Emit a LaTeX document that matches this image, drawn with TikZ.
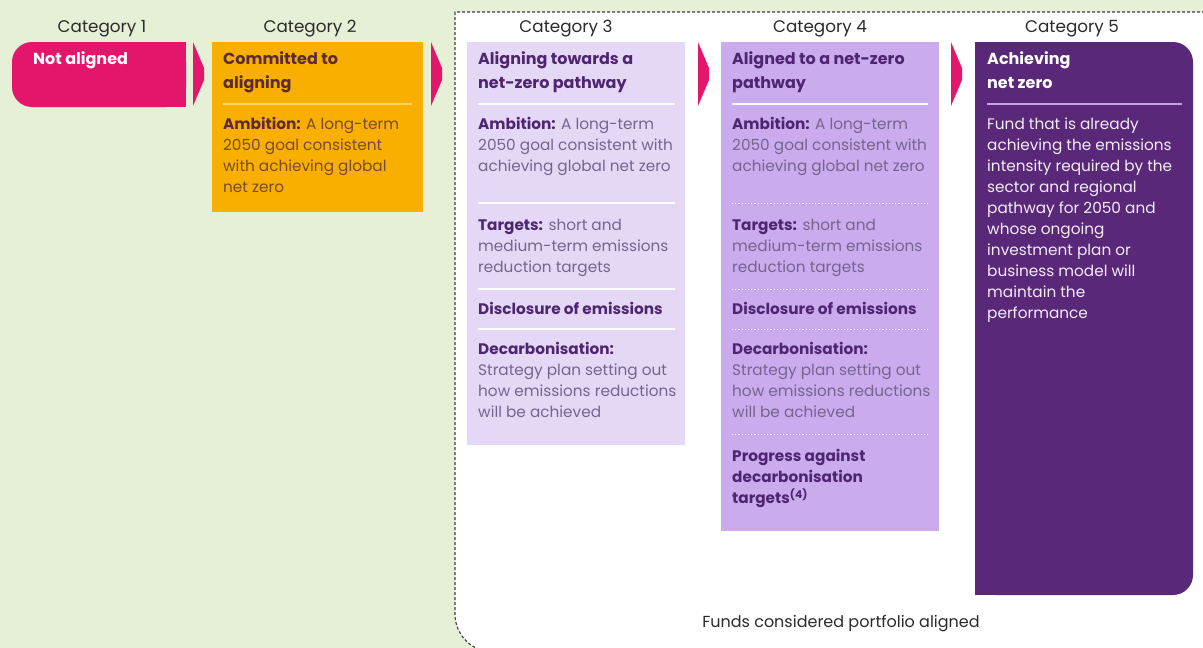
\documentclass[tikz,border=0pt]{standalone}
\usepackage{fontspec}
\setmainfont{Poppins}
\usetikzlibrary{positioning}
\definecolor{Meadow}{HTML}{E5F0D6}
\definecolor{Rose}{HTML}{E4166C}
\definecolor{Amber}{HTML}{F8AF00}
\definecolor{Lilac}{HTML}{E5D8F6}
\definecolor{Lavender}{HTML}{C9ABEE}
\definecolor{Plum}{HTML}{5A2878}
\definecolor{Ink}{HTML}{2B2B2B}
\definecolor{Maroon}{HTML}{5C2A35}
\definecolor{Umber}{HTML}{7A4A30}
\definecolor{Grape}{HTML}{4E2570}
\definecolor{Mauve}{HTML}{76648E}
\definecolor{Butter}{HTML}{FBD65C}
\definecolor{Thistle}{HTML}{C6A2E6}
\definecolor{Haze}{HTML}{F3ECF8}
\definecolor{Slate}{HTML}{3E3F44}
\tikzset{
    catlabel/.style={anchor=base, inner sep=0, text=Ink, font=\fontsize{16.8}{19}\selectfont},
    boxtext/.style={anchor=north west, align=left, inner sep=0, font=\fontsize{15.3}{21}\selectfont},
    boldtext/.style={boxtext, font=\bfseries\fontsize{15.3}{21}\selectfont},
    boxtitle/.style={boxtext, font=\bfseries\fontsize{16}{24}\selectfont},
    chevron/.style={fill=Rose},
    rule/.style={line width=1.2pt},
    dotrule/.style={rule, dotted, line width=1pt},
    alignframe/.style={fill=white, draw=Slate, line width=1.1pt, dash pattern=on 3pt off 2pt},
}

\begin{document}
\begin{tikzpicture}[x=1pt, y=-1pt]
    \useasboundingbox (0,0) rectangle (1203,648);
    \fill[Meadow] (0,0) rectangle (1203,648);

    % Aligned funds frame (runs off the right and bottom edge)
    \begin{scope}
        \clip (0,0) rectangle (1203,648);
        \path[alignframe] (1220,12) -- (455,12) -- (455,614)
            .. controls (455,635) and (472,652) .. (493,652) -- (1220,652);
    \end{scope}

    % Category headings
    \node[catlabel] (cat1) at (102,32) {Category 1};
    \node[catlabel] (cat2) at (310,32) {Category 2};
    \node[catlabel] (cat3) at (566,32) {Category 3};
    \node[catlabel] (cat4) at (820,32) {Category 4};
    \node[catlabel] (cat5) at (1072,32) {Category 5};

    % Boxes
    \fill[Rose, rounded corners=20pt] (12,42) rectangle (186,107);
    \fill[Rose] (100,42) rectangle (186,107);
    \fill[Amber] (212,42) rectangle (423,212);
    \fill[Lilac] (467,42) rectangle (685,445);
    \fill[Lavender] (721,42) rectangle (939,531);
    \fill[Plum, rounded corners=20pt] (975,42) rectangle (1193,595);
    \fill[Plum] (975,42) rectangle (1100,595);

    % Chevrons between the categories
    \foreach \x in {193,431,698,951}
        \fill[chevron] (\x,42) -- (\x+11,68) -- (\x+11,80) -- (\x,106) -- cycle;

    % Category 1
    \node[boxtitle, text=white] (c1title) at (33,51) {Not aligned};

    % Category 2
    \node[boxtitle, text=Maroon] (c2title) at (223,51) {Committed to\\aligning};
    \draw[rule, Butter] (223,104) -- (412,104);
    \node[boxtext, text=Umber] (c2amb) at (223,117.5)
        {{\bfseries\color{Maroon}Ambition:} A long-term\\2050 goal consistent\\with achieving global\\net zero};

    % Category 3
    \node[boxtitle, text=Grape] (c3title) at (478,51) {Aligning towards a\\net-zero pathway};
    \draw[rule, white] (478,104) -- (675,104);
    \node[boxtext, text=Mauve] (c3amb) at (478,117.5)
        {{\bfseries\color{Grape}Ambition:} A long-term\\2050 goal consistent with\\achieving global net zero};
    \draw[rule, white] (478,203) -- (675,203);
    \node[boxtext, text=Mauve] (c3tgt) at (478,218.5)
        {{\bfseries\color{Grape}Targets:} short and\\medium-term emissions\\reduction targets};
    \draw[rule, white] (478,289) -- (675,289);
    \node[boldtext, text=Grape] (c3disc) at (478,302.5) {Disclosure of emissions};
    \draw[rule, white] (478,329) -- (675,329);
    \node[boxtext, text=Mauve] (c3decarb) at (478,342.5)
        {{\bfseries\color{Grape}Decarbonisation:}\\Strategy plan setting out\\how emissions reductions\\will be achieved};

    % Category 4
    \node[boxtitle, text=Grape] (c4title) at (732,51) {Aligned to a net-zero\\pathway};
    \draw[rule, white] (732,104) -- (928,104);
    \node[boxtext, text=Mauve] (c4amb) at (732,117.5)
        {{\bfseries\color{Grape}Ambition:} A long-term\\2050 goal consistent with\\achieving global net zero};
    \draw[dotrule, white] (732,203) -- (928,203);
    \node[boxtext, text=Mauve] (c4tgt) at (732,218.5)
        {{\bfseries\color{Grape}Targets:} short and\\medium-term emissions\\reduction targets};
    \draw[dotrule, white] (732,289) -- (928,289);
    \node[boldtext, text=Grape] (c4disc) at (732,302.5) {Disclosure of emissions};
    \draw[dotrule, white] (732,329) -- (928,329);
    \node[boxtext, text=Mauve] (c4decarb) at (732,342.5)
        {{\bfseries\color{Grape}Decarbonisation:}\\Strategy plan setting out\\how emissions reductions\\will be achieved};
    \draw[dotrule, white] (732,434) -- (928,434);
    \node[boldtext, text=Grape] (c4prog) at (732,449.5)
        {Progress against\\decarbonisation\\targets\textsuperscript{(4)}};

    % Category 5
    \node[boxtitle, text=white] (c5title) at (987,51) {Achieving\\net zero};
    \draw[rule, Thistle] (987,104) -- (1182,104);
    \node[boxtext, text=Haze] (c5text) at (987,117.5)
        {Fund that is already\\achieving the emissions\\intensity required by the\\sector and regional\\pathway for 2050 and\\whose ongoing\\investment plan or\\business model will\\maintain the\\performance};

    \node[catlabel, font=\fontsize{16}{19}\selectfont] (aligned) at (841,627) {Funds considered portfolio aligned};
\end{tikzpicture}
\end{document}
